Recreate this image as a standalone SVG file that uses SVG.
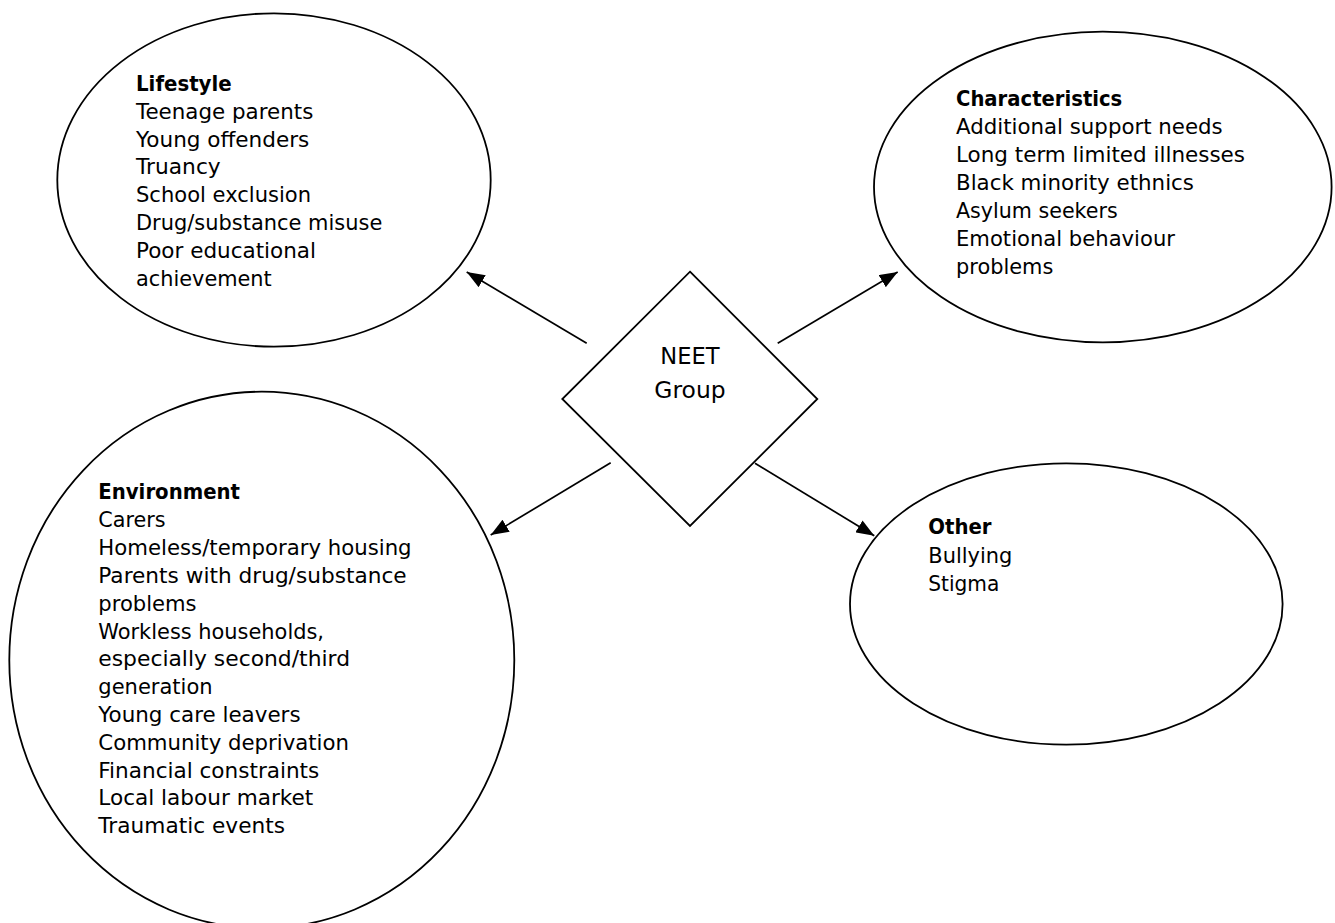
<svg xmlns="http://www.w3.org/2000/svg" width="1335" height="923" viewBox="0 0 1335 923">
<style>
.shape{fill:#fff;stroke:#000;stroke-width:1.8}
.conn{stroke:#000;stroke-width:1.7;fill:none}
text{font-family:"DejaVu Sans","Liberation Sans",sans-serif;font-size:21.4px;fill:#000}
.h{font-weight:bold}
.c{font-size:23.5px;text-anchor:middle}
</style>
<defs>
<marker id="ah" markerWidth="18" markerHeight="14" refX="18" refY="7" orient="auto" markerUnits="userSpaceOnUse">
<path d="M0,0 L18,7 L0,14 z" fill="#000"/>
</marker>
</defs>
<rect x="0" y="0" width="1335" height="923" fill="#fff"/>
<g id="lifestyle">
<ellipse class="shape" cx="274" cy="180" rx="216.7" ry="166.7"/>
<text x="136" y="90.7" class="h" textLength="95.7" lengthAdjust="spacingAndGlyphs">Lifestyle</text>
<text x="136" y="118.6" textLength="177.3" lengthAdjust="spacingAndGlyphs">Teenage parents</text>
<text x="136" y="146.5" textLength="173.3" lengthAdjust="spacingAndGlyphs">Young offenders</text>
<text x="136" y="174.4" textLength="84.7" lengthAdjust="spacingAndGlyphs">Truancy</text>
<text x="136" y="202.3" textLength="175" lengthAdjust="spacingAndGlyphs">School exclusion</text>
<text x="136" y="230.2" textLength="246.3" lengthAdjust="spacingAndGlyphs">Drug/substance misuse</text>
<text x="136" y="258.1" textLength="180" lengthAdjust="spacingAndGlyphs">Poor educational</text>
<text x="136" y="286" textLength="135.7" lengthAdjust="spacingAndGlyphs">achievement</text>
</g>
<g id="characteristics">
<ellipse class="shape" cx="1102.8" cy="187" rx="228.8" ry="155.3"/>
<text x="956" y="106" class="h" textLength="166.3" lengthAdjust="spacingAndGlyphs">Characteristics</text>
<text x="956" y="134" textLength="266.7" lengthAdjust="spacingAndGlyphs">Additional support needs</text>
<text x="956" y="162" textLength="289" lengthAdjust="spacingAndGlyphs">Long term limited illnesses</text>
<text x="956" y="190" textLength="238" lengthAdjust="spacingAndGlyphs">Black minority ethnics</text>
<text x="956" y="218" textLength="161.7" lengthAdjust="spacingAndGlyphs">Asylum seekers</text>
<text x="956" y="246" textLength="219" lengthAdjust="spacingAndGlyphs">Emotional behaviour</text>
<text x="956" y="274" textLength="97.3" lengthAdjust="spacingAndGlyphs">problems</text>
</g>
<g id="environment">
<ellipse class="shape" cx="261.8" cy="660" rx="252.5" ry="268.3"/>
<text x="98.3" y="499.3" class="h" textLength="141.7" lengthAdjust="spacingAndGlyphs">Environment</text>
<text x="98.3" y="527.1" textLength="67.3" lengthAdjust="spacingAndGlyphs">Carers</text>
<text x="98.3" y="555" textLength="313.3" lengthAdjust="spacingAndGlyphs">Homeless/temporary housing</text>
<text x="98.3" y="582.8" textLength="308.3" lengthAdjust="spacingAndGlyphs">Parents with drug/substance</text>
<text x="98.3" y="610.6" textLength="98.3" lengthAdjust="spacingAndGlyphs">problems</text>
<text x="98.3" y="638.5" textLength="225.7" lengthAdjust="spacingAndGlyphs">Workless households,</text>
<text x="98.3" y="666.3" textLength="251.7" lengthAdjust="spacingAndGlyphs">especially second/third</text>
<text x="98.3" y="694.1" textLength="114.3" lengthAdjust="spacingAndGlyphs">generation</text>
<text x="98.3" y="722" textLength="202.3" lengthAdjust="spacingAndGlyphs">Young care leavers</text>
<text x="98.3" y="749.8" textLength="250.7" lengthAdjust="spacingAndGlyphs">Community deprivation</text>
<text x="98.3" y="777.6" textLength="221" lengthAdjust="spacingAndGlyphs">Financial constraints</text>
<text x="98.3" y="805.4" textLength="215" lengthAdjust="spacingAndGlyphs">Local labour market</text>
<text x="98.3" y="833.3" textLength="186.7" lengthAdjust="spacingAndGlyphs">Traumatic events</text>
</g>
<g id="other">
<ellipse class="shape" cx="1066.3" cy="604" rx="216.3" ry="140.7"/>
<text x="928.3" y="534.3" class="h" textLength="63.3" lengthAdjust="spacingAndGlyphs">Other</text>
<text x="928.3" y="562.7" textLength="84" lengthAdjust="spacingAndGlyphs">Bullying</text>
<text x="928.3" y="591" textLength="71" lengthAdjust="spacingAndGlyphs">Stigma</text>
</g>
<g id="neet">
<polygon class="shape" points="690,271.7 817.3,399 690,526 562.3,399"/>
<text x="690" y="364" class="c" textLength="59.3" lengthAdjust="spacingAndGlyphs">NEET</text>
<text x="690" y="397.7" class="c" textLength="71.3" lengthAdjust="spacingAndGlyphs">Group</text>
</g>
<g id="connectors">
<line class="conn" x1="586.7" y1="343.3" x2="466.7" y2="272" marker-end="url(#ah)"/>
<line class="conn" x1="777.7" y1="343.3" x2="897.7" y2="272" marker-end="url(#ah)"/>
<line class="conn" x1="610.7" y1="462.7" x2="490.7" y2="535" marker-end="url(#ah)"/>
<line class="conn" x1="755" y1="463.3" x2="874.3" y2="535.7" marker-end="url(#ah)"/>
</g>
</svg>
